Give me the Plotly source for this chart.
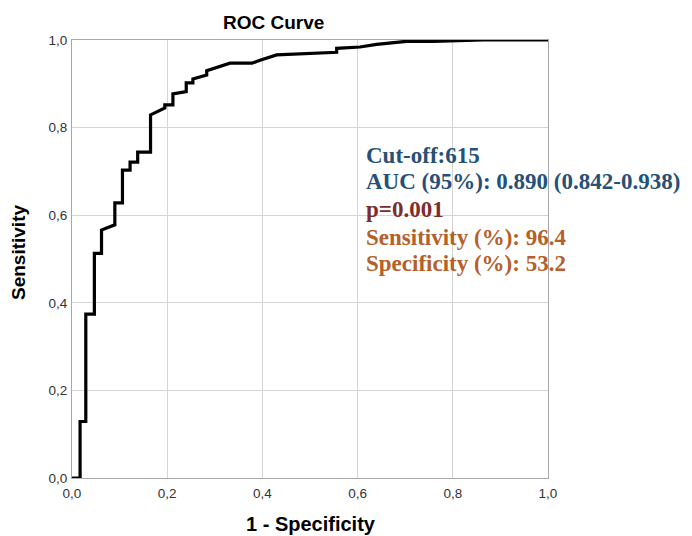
import plotly.graph_objects as go

# ROC curve vertices (1 - specificity, sensitivity)
fpr = [0.000, 0.017, 0.017, 0.029, 0.029, 0.047, 0.047, 0.062, 0.062, 0.090,
       0.090, 0.106, 0.106, 0.122, 0.122, 0.138, 0.138, 0.165, 0.165, 0.195,
       0.195, 0.212, 0.212, 0.240, 0.240, 0.254, 0.254, 0.283, 0.283, 0.304,
       0.332, 0.378, 0.395, 0.430, 0.535, 0.556, 0.556, 0.605, 0.640, 0.703,
       0.759, 0.864, 1.000]
tpr = [0.000, 0.000, 0.129, 0.129, 0.374, 0.374, 0.513, 0.513, 0.566, 0.578,
       0.628, 0.628, 0.703, 0.703, 0.721, 0.721, 0.744, 0.744, 0.829, 0.845,
       0.852, 0.852, 0.877, 0.882, 0.902, 0.902, 0.911, 0.920, 0.930, 0.938,
       0.947, 0.947, 0.954, 0.966, 0.972, 0.972, 0.981, 0.984, 0.990, 0.997,
       0.997, 1.000, 1.000]

tick_vals = [0.0, 0.2, 0.4, 0.6, 0.8, 1.0]
tick_text = ["0,0", "0,2", "0,4", "0,6", "0,8", "1,0"]

info_lines = ["Cut-off:615",
              "AUC (95%): 0.890 (0.842-0.938)",
              "p=0.001",
              "Sensitivity (%): 96.4",
              "Specificity (%): 53.2"]
info_colors = ["#255178", "#255178", "#7B2C2C", "#B5602A", "#B5602A"]
info_y = [0.737, 0.678, 0.614, 0.550, 0.489]

fig = go.Figure()
fig.add_trace(go.Scatter(x=fpr, y=tpr, mode="lines",
                         line=dict(color="black", width=3.2),
                         showlegend=False))

axis_common = dict(range=[0, 1], tickvals=tick_vals, ticktext=tick_text,
                   showgrid=True, gridcolor="#d4d4d4", gridwidth=1,
                   zeroline=False, showline=True, linecolor="#a8a8a8",
                   linewidth=1, mirror=True, ticks="",
                   tickfont=dict(family="Liberation Sans, Arial", size=13.5, color="#333333"))

fig.update_xaxes(**axis_common, ticklabelstandoff=3)
fig.update_yaxes(**axis_common, ticklabelstandoff=1)

annotations = [
    dict(text="<b>ROC Curve</b>", xref="paper", yref="paper",
         x=(273 - 72) / 476, y=(478 - 22) / 438, showarrow=False,
         xanchor="center", yanchor="middle",
         font=dict(family="Liberation Sans, Arial", size=19, color="black")),
    dict(text="<b>1 - Specificity</b>", xref="paper", yref="paper",
         x=(311 - 72) / 476, y=(478 - 524) / 438, showarrow=False,
         xanchor="center", yanchor="middle",
         font=dict(family="Liberation Sans, Arial", size=20, color="black")),
    dict(text="<b>Sensitivity</b>", xref="paper", yref="paper",
         x=(19 - 72) / 476, y=(478 - 253) / 438, showarrow=False, textangle=-90,
         xanchor="center", yanchor="middle",
         font=dict(family="Liberation Sans, Arial", size=19, color="black")),
]
for txt, col, yy in zip(info_lines, info_colors, info_y):
    annotations.append(dict(text="<b>" + txt + "</b>", xref="paper", yref="paper",
                            x=(364 - 72) / 476, y=yy, xanchor="left", yanchor="middle",
                            showarrow=False,
                            font=dict(family="Liberation Serif, Times New Roman", size=23, color=col)))

fig.update_layout(width=692, height=536,
                  margin=dict(l=64, r=152, t=32, b=66),
                  plot_bgcolor="white", paper_bgcolor="white",
                  annotations=annotations)

fig.write_html("out.html")
